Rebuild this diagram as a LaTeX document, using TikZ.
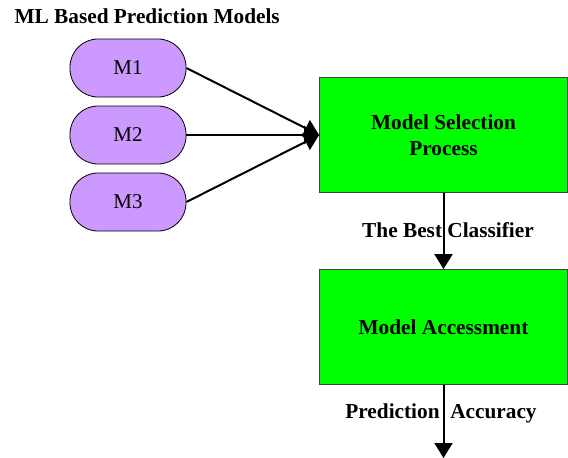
\documentclass[tikz,border=0pt]{standalone}
\usepackage{fontspec}
\setmainfont{Liberation Serif}
\usetikzlibrary{positioning, arrows.meta}

\begin{document}
\begin{tikzpicture}
			[x=1pt, y=-1pt, node distance=67pt]
			
			\tikzstyle{model} = [rectangle, rounded corners=28pt, minimum width=116pt, minimum height=58pt, text centered, draw=black, line width=0.8pt, fill={rgb,255:red,204;green,153;blue,255}, font=\fontsize{21}{24}\selectfont]
			
			\tikzstyle{process} = [rectangle, minimum width=248pt, minimum height=115pt, text centered, draw=black!75, line width=0.8pt, align=center, fill={rgb,255:red,0;green,255;blue,0}, font=\fontsize{21.3}{26}\selectfont\bfseries]
			
			\tikzstyle{lbl} = [font=\fontsize{21.3}{24}\selectfont\bfseries]
			
			\tikzstyle{arrow} = [line width=2pt,->,>={Triangle[length=15pt,width=18pt]}]
			
			\useasboundingbox (0,0) rectangle (568,458);
			
			\node (title) [lbl, anchor=base west] at (11,23) {ML Based Prediction Models};
			
			\node (m1) [model] at (128,68) {M1};
			\node (m2) [model, below of=m1] {M2};
			\node (m3) [model, below of=m2] {M3};
			
			\node (sel) [process] at (443.5,135) {Model Selection\\Process};
			\node (acc) [process, below of=sel, yshift=-125pt] {Model Accessment};
			\coordinate (out) at (443.5,458);
			
			\draw [arrow] (m1.east) -- (sel.west);
			\draw [arrow] (m2.east) -- (sel.west);
			\draw [arrow] (m3.east) -- (sel.west);
			\draw [arrow] (sel) -- (acc);
			\draw [arrow] (acc) -- (out);
			
			\node (best) [lbl] at (448,230) {The Best Classifier};
			\node (pred) [lbl] at (441,413) {Prediction\ \ Accuracy};
			
		\end{tikzpicture}
\end{document}
